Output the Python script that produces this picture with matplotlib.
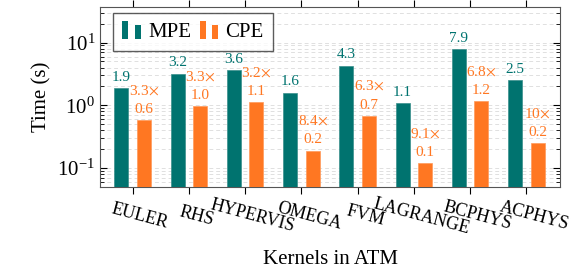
import numpy as np
import matplotlib
matplotlib.use("Agg")
import matplotlib.pyplot as plt
import matplotlib.transforms as mtransforms
from matplotlib.patches import Rectangle
from matplotlib.legend_handler import HandlerBase

plt.rcParams['font.family'] = ['Liberation Serif', 'DejaVu Serif']
plt.rcParams['mathtext.fontset'] = 'stix'

# dados
kernels = ['EULER', 'RHS', 'HYPERVIS', 'OMEGA', 'FVM', 'LAGRANGE', 'BCPHYS', 'ACPHYS']
mpe = [1.9, 3.2, 3.6, 1.6, 4.3, 1.1, 7.9, 2.5]
cpe = [0.58, 0.97, 1.12, 0.19, 0.68, 0.12, 1.16, 0.25]
mpe_txt = ['1.9', '3.2', '3.6', '1.6', '4.3', '1.1', '7.9', '2.5']
cpe_txt = ['0.6', '1.0', '1.1', '0.2', '0.7', '0.1', '1.2', '0.2']
speedup_txt = ['3.3', '3.3', '3.2', '8.4', '6.3', '9.1', '6.8', '10']

cor_mpe = '#00736f'
cor_cpe = '#ff7722'


# legenda no estilo ybar do pgfplots (duas barrinhas)
class HandlerDuasBarras(HandlerBase):
    def create_artists(self, legend, orig_handle, xdescent, ydescent,
                       width, height, fontsize, trans):
        cor = orig_handle.get_facecolor()
        w = width * 0.3
        r1 = Rectangle((-xdescent + width * 0.0, -ydescent - height * 0.15), w, height * 1.25,
                       facecolor=cor, edgecolor='none', transform=trans)
        r2 = Rectangle((-xdescent + width * 0.6, -ydescent - height * 0.15), w, height * 0.95,
                       facecolor=cor, edgecolor='none', transform=trans)
        return [r1, r2]


fig = plt.figure(figsize=(5.71, 2.72), dpi=100)
ax = fig.add_axes([0.175, 0.3125, 0.806, 0.662])

x = np.arange(len(kernels))
larg = 0.25
desl = 0.2
ax.bar(x - desl, mpe, larg, color=cor_mpe, edgecolor='#3a8f8b', linewidth=0.5, zorder=3)
ax.bar(x + desl, cpe, larg, color=cor_cpe, edgecolor='#ff9a5a', linewidth=0.5, zorder=3)

ax.set_yscale('log')
ax.set_ylim(0.05, 37)
ax.set_xlim(-0.58, 7.6)

for i in range(len(kernels)):
    ax.annotate(mpe_txt[i], (x[i] - desl, mpe[i]), xytext=(0, 3), textcoords='offset points',
                ha='center', va='bottom', color=cor_mpe, fontsize=11)
    ax.annotate(cpe_txt[i], (x[i] + desl, cpe[i]), xytext=(0, 3), textcoords='offset points',
                ha='center', va='bottom', color=cor_cpe, fontsize=11)
    ax.annotate(speedup_txt[i] + r'$\times$', (x[i] + desl, cpe[i]), xytext=(0, 16.5),
                textcoords='offset points', ha='center', va='bottom', color=cor_cpe, fontsize=11)

ax.set_xticks(x)
ax.set_xticklabels(kernels, rotation=-15, ha='center', rotation_mode='anchor', fontsize=13)

ax.tick_params(axis='y', which='both', direction='in', right=True)
ax.tick_params(axis='y', which='major', length=5, labelsize=15)
ax.tick_params(axis='y', which='minor', length=3)
ax.tick_params(axis='x', which='major', direction='out', top=True, length=5, pad=10, labelsize=13)

# desloca os rótulos do eixo x um pouco para a direita (como no pgfplots)
desloc = mtransforms.ScaledTranslation(7 / 72, 0, fig.dpi_scale_trans)
for t in ax.xaxis.get_major_ticks():
    t.label1.set_transform(t.label1.get_transform() + desloc)

ax.grid(True, which='both', axis='y', linestyle=(0, (4, 3)), color='#e0e0e0', linewidth=0.7, zorder=0)
ax.set_axisbelow(True)
for s in ax.spines.values():
    s.set_color('#555555')
    s.set_linewidth(0.8)

ax.set_ylabel('Time (s)', fontsize=15, labelpad=4)
ax.set_xlabel('Kernels in ATM', fontsize=15, labelpad=9)

h1 = Rectangle((0, 0), 1, 1, facecolor=cor_mpe)
h2 = Rectangle((0, 0), 1, 1, facecolor=cor_cpe)
ax.legend(handles=[h1, h2], labels=['MPE', 'CPE'], loc='upper left', ncol=2,
          handler_map={Rectangle: HandlerDuasBarras()},
          fontsize=15, frameon=True, fancybox=False, edgecolor='#333333',
          handlelength=1.0, handleheight=0.7, handletextpad=0.25, columnspacing=0.4,
          borderpad=0.45, borderaxespad=0, bbox_to_anchor=(0.028, 0.967))

fig.savefig('out.png', dpi=100)
